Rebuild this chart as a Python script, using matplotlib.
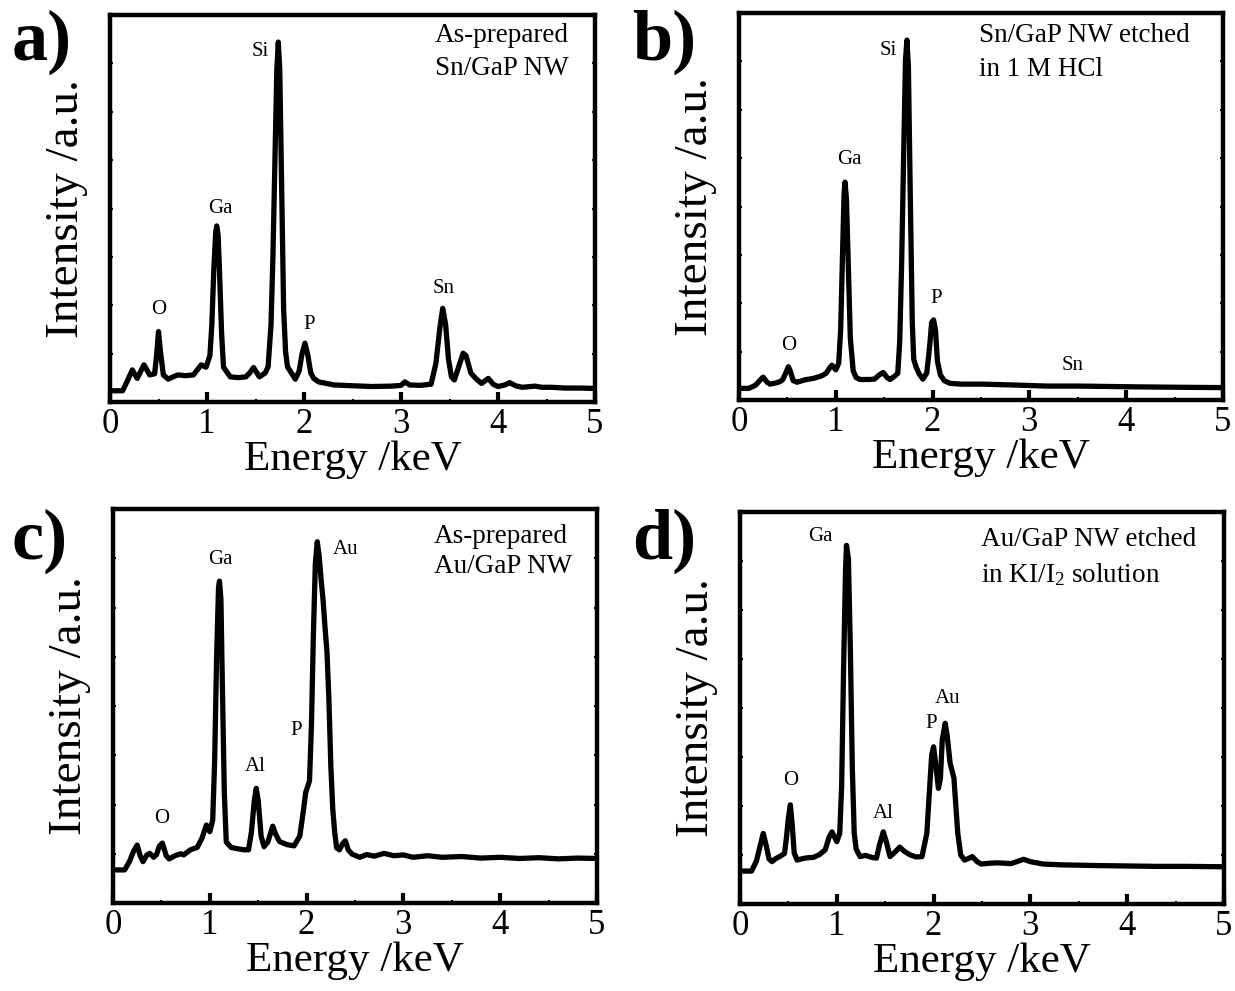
import numpy as np
import matplotlib
matplotlib.use('Agg')
import matplotlib.pyplot as plt
from matplotlib.ticker import MultipleLocator

plt.rcParams['font.family'] = ['Liberation Serif', 'DejaVu Serif']
plt.rcParams['mathtext.fontset'] = 'custom'
plt.rcParams['mathtext.rm'] = 'Liberation Serif'
plt.rcParams['mathtext.it'] = 'Liberation Serif:italic'

# EDS spectra: (energy keV, intensity a.u. in % of axis height)
spec_a = [(0.0, 2.9), (0.13, 2.9), (0.18, 5.5), (0.23, 8.3), (0.28, 6.1), (0.35, 9.6), (0.41, 7.0),
          (0.46, 7.3), (0.48, 12), (0.50, 18.2), (0.52, 13), (0.55, 7.0), (0.60, 5.9), (0.65, 6.5),
          (0.70, 7.0), (0.78, 6.8), (0.86, 7.0), (0.94, 9.6), (0.99, 9.0), (1.03, 12), (1.05, 20),
          (1.07, 34), (1.09, 44), (1.10, 45.5), (1.115, 43), (1.13, 33), (1.15, 18), (1.17, 9),
          (1.24, 6.5), (1.32, 6.3), (1.40, 6.5), (1.44, 7.5), (1.48, 8.9), (1.54, 6.5), (1.60, 7.5),
          (1.63, 9.1), (1.66, 20), (1.68, 38), (1.70, 62), (1.72, 86), (1.735, 93), (1.75, 86),
          (1.77, 55), (1.79, 24), (1.81, 13), (1.83, 9.1), (1.87, 7.5), (1.91, 5.9), (1.95, 8),
          (1.98, 12.5), (2.01, 15.2), (2.04, 12), (2.07, 7.5), (2.10, 6.1), (2.15, 5.2), (2.31, 4.4),
          (2.5, 4.2), (2.7, 4.0), (2.9, 4.1), (3.0, 4.3), (3.04, 5.2), (3.09, 4.4), (3.2, 4.3),
          (3.31, 4.6), (3.36, 10), (3.40, 19), (3.43, 24.2), (3.46, 20), (3.49, 11), (3.52, 6.5),
          (3.55, 5.7), (3.60, 9.5), (3.64, 12.6), (3.67, 12), (3.72, 7.5), (3.77, 6.1), (3.83, 4.8),
          (3.90, 6.1), (3.95, 4.6), (4.0, 4.0), (4.07, 4.4), (4.12, 5.0), (4.18, 4.2), (4.25, 3.8),
          (4.38, 4.1), (4.45, 3.8), (4.55, 3.8), (4.7, 3.6), (4.85, 3.6), (5.0, 3.5)]

spec_b = [(0.0, 3.0), (0.10, 3.0), (0.17, 3.8), (0.22, 5.2), (0.25, 5.9), (0.29, 4.6), (0.32, 4.1),
          (0.38, 4.4), (0.42, 4.7), (0.45, 5.2), (0.48, 6.8), (0.51, 8.6), (0.53, 7.5), (0.56, 5.0),
          (0.60, 4.6), (0.68, 5.2), (0.77, 5.6), (0.85, 6.2), (0.90, 6.9), (0.94, 8.4), (0.96, 9.0),
          (1.0, 7.8), (1.03, 9.5), (1.05, 18), (1.07, 38), (1.085, 53), (1.095, 56.3), (1.11, 52),
          (1.13, 34), (1.15, 16), (1.18, 7.5), (1.21, 5.8), (1.25, 5.3), (1.35, 5.3), (1.40, 5.4),
          (1.45, 6.5), (1.49, 7.1), (1.53, 5.8), (1.56, 5.3), (1.61, 6.2), (1.64, 6.9), (1.66, 15),
          (1.68, 35), (1.70, 62), (1.72, 88), (1.735, 93), (1.75, 86), (1.77, 52), (1.79, 20),
          (1.805, 10.5), (1.83, 8.5), (1.86, 6.8), (1.90, 5.4), (1.94, 7.0), (1.97, 14), (1.99, 20),
          (2.01, 20.7), (2.03, 18), (2.05, 10), (2.08, 6.5), (2.12, 5.0), (2.18, 4.3), (2.3, 4.1),
          (2.52, 4.1), (2.8, 3.9), (3.18, 3.6), (3.5, 3.6), (3.8, 3.5), (4.1, 3.4), (4.5, 3.3), (5.0, 3.2)]

spec_c = [(0.0, 8.4), (0.12, 8.4), (0.17, 10.5), (0.21, 13), (0.25, 14.7), (0.28, 12), (0.31, 10.5),
          (0.35, 12.2), (0.38, 12.6), (0.42, 11.6), (0.45, 12.3), (0.48, 14.5), (0.51, 15.2), (0.55, 12),
          (0.58, 11.2), (0.64, 12), (0.70, 12.5), (0.73, 12.2), (0.80, 13.5), (0.87, 14.1), (0.92, 16.5),
          (0.965, 19.8), (1.0, 18.1), (1.03, 21), (1.05, 36), (1.07, 62), (1.09, 80), (1.10, 81.7),
          (1.115, 77), (1.13, 55), (1.15, 28), (1.17, 15.5), (1.22, 14.1), (1.28, 13.8), (1.35, 13.5),
          (1.40, 13.5), (1.43, 18), (1.46, 26), (1.48, 29.1), (1.50, 26), (1.53, 17), (1.56, 14.3),
          (1.60, 15.5), (1.65, 19.5), (1.68, 17.5), (1.72, 15.6), (1.80, 14.8), (1.87, 14.5), (1.93, 17),
          (1.97, 24), (1.99, 28), (2.03, 31), (2.05, 45), (2.07, 68), (2.09, 86), (2.11, 91.7),
          (2.13, 88), (2.15, 82), (2.17, 77), (2.19, 70), (2.21, 64), (2.23, 52), (2.25, 35), (2.27, 24),
          (2.29, 18), (2.31, 14), (2.34, 13.5), (2.37, 15.0), (2.40, 15.8), (2.43, 13.5), (2.47, 12.4),
          (2.55, 11.6), (2.62, 12.3), (2.70, 11.9), (2.80, 12.6), (2.90, 12.0), (3.0, 12.2), (3.1, 11.6),
          (3.25, 12.0), (3.4, 11.6), (3.6, 11.8), (3.8, 11.4), (4.0, 11.6), (4.2, 11.3), (4.4, 11.5),
          (4.6, 11.2), (4.8, 11.4), (5.0, 11.3)]

spec_d = [(0.0, 8.4), (0.12, 8.4), (0.17, 11), (0.21, 15), (0.24, 18), (0.27, 15), (0.30, 11.5),
          (0.33, 10.8), (0.37, 11.6), (0.41, 12.1), (0.46, 12.9), (0.48, 17), (0.50, 22), (0.52, 25.3),
          (0.54, 20), (0.56, 13), (0.59, 11.2), (0.65, 11.6), (0.70, 11.8), (0.76, 11.9), (0.82, 12.6),
          (0.88, 13.8), (0.92, 17), (0.95, 18.4), (1.0, 15.9), (1.03, 18), (1.05, 30), (1.07, 60),
          (1.09, 85), (1.10, 91.5), (1.12, 88), (1.14, 65), (1.16, 35), (1.18, 18), (1.20, 14),
          (1.24, 12.1), (1.30, 12.4), (1.36, 11.9), (1.41, 11.7), (1.44, 15), (1.48, 18.4), (1.51, 16),
          (1.55, 12.1), (1.60, 13.2), (1.65, 14.5), (1.70, 13.4), (1.76, 12.5), (1.82, 12.0), (1.88, 12.1),
          (1.93, 18), (1.96, 30), (1.98, 38), (2.00, 40.1), (2.02, 36), (2.05, 29.5), (2.07, 32),
          (2.09, 42), (2.12, 46.1), (2.14, 43), (2.17, 36), (2.21, 32.1), (2.23, 25), (2.25, 18),
          (2.28, 12.5), (2.32, 11.2), (2.36, 11.6), (2.40, 12.1), (2.45, 10.8), (2.49, 10.2), (2.58, 10.4),
          (2.66, 10.5), (2.80, 10.3), (2.93, 11.4), (3.0, 10.8), (3.13, 10.2), (3.3, 10.0), (3.5, 9.9),
          (3.7, 9.8), (4.0, 9.7), (4.3, 9.6), (4.6, 9.6), (5.0, 9.5)]

# peak labels (element, energy, height)
peaks_a = [('O', 0.50, 23.8), ('Ga', 1.14, 50.0), ('Si', 1.55, 90.5), ('P', 2.05, 19.9), ('Sn', 3.44, 29.4)]
peaks_b = [('O', 0.51, 14.2), ('Ga', 1.14, 62.2), ('Si', 1.54, 90.4), ('P', 2.04, 26.3), ('Sn', 3.45, 9.0)]
peaks_c = [('O', 0.50, 21.5), ('Ga', 1.11, 87.1), ('Al', 1.47, 34.6), ('P', 1.89, 43.9), ('Au', 2.40, 89.6)]
peaks_d = [('O', 0.52, 31.6), ('Ga', 0.83, 93.7), ('Al', 1.48, 23.1), ('P', 1.97, 46.1), ('Au', 2.14, 52.4)]

notes_a = ['As-prepared', 'Sn/GaP NW']
notes_b = ['Sn/GaP NW etched', 'in 1 M HCl']
notes_c = ['As-prepared', 'Au/GaP NW']
notes_d = ['Au/GaP NW etched', 'in KI/I$_2$ solution']

letters = ['a)', 'b)', 'c)', 'd)']

W, H = 1235, 991
# axes boxes in pixels: left, top, right, bottom
boxes = [(110, 15, 595, 402), (739, 13, 1223, 400), (113, 509, 597, 903), (740, 512, 1224, 904)]
note_pos = [(0.670, 0.948, 0.862), (0.496, 0.943, 0.853), (0.663, 0.930, 0.854), (0.498, 0.929, 0.839)]
letter_pos = [(42, 42), (664, 42), (40, 541), (664, 541)]

fig = plt.figure(figsize=(W / 100, H / 100), dpi=100)

panels = [(spec_a, peaks_a, notes_a), (spec_b, peaks_b, notes_b),
          (spec_c, peaks_c, notes_c), (spec_d, peaks_d, notes_d)]

for i, (spec, peaks, notes) in enumerate(panels):
    l, t, r, b = boxes[i]
    ax = fig.add_axes([l / W, 1 - b / H, (r - l) / W, (b - t) / H])
    e = np.array([p[0] for p in spec])
    y = np.array([p[1] for p in spec])
    ax.plot(e, y, color='black', lw=3.8, solid_joinstyle='round')
    ax.set_xlim(0, 5)
    ax.set_ylim(0, 100)
    for s in ax.spines.values():
        s.set_linewidth(3.2)
    ax.xaxis.set_major_locator(MultipleLocator(1))
    ax.xaxis.set_minor_locator(MultipleLocator(0.5))
    ax.yaxis.set_major_locator(MultipleLocator(12.5))
    ax.tick_params(axis='x', which='major', direction='in', length=7, width=3,
                   labelsize=25, pad=4)
    ax.tick_params(axis='x', which='minor', direction='in', length=2, width=1.5)
    ax.tick_params(axis='y', which='major', direction='in', length=2, width=1.5,
                   left=True, right=True, labelleft=False)
    ax.set_xlabel('Energy /keV', fontsize=31, labelpad=0)
    ax.set_ylabel('Intensity /a.u.', fontsize=34, labelpad=16)
    for name, px, py in peaks:
        ax.text(px, py, name, fontsize=15, ha='center', va='center')
    nx, ny1, ny2 = note_pos[i]
    ax.text(nx, ny1, notes[0], transform=ax.transAxes, fontsize=19.5, ha='left', va='center')
    ax.text(nx, ny2, notes[1], transform=ax.transAxes, fontsize=19.5, ha='left', va='center')
    lx, ly = letter_pos[i]
    fig.text(lx / W, 1 - ly / H, letters[i], fontsize=52, fontweight='bold',
             ha='center', va='center')

fig.savefig('out.png', dpi=100)
